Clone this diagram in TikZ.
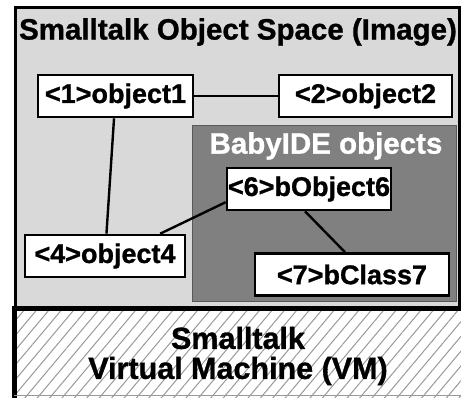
\documentclass[tikz,border=0pt]{standalone}
\usepackage{fontspec}
\setmainfont{Liberation Sans}[BoldFeatures={FakeBold=1}]
\usetikzlibrary{patterns.meta}
\definecolor{cspace}{HTML}{D9D9D9}
\definecolor{cbaby}{HTML}{808080}
\definecolor{cbabyline}{HTML}{595959}
\definecolor{chatch}{HTML}{999999}

\begin{document}
\begin{tikzpicture}[
  x=1pt, y=-1pt,
  font=\bfseries\fontsize{27}{31}\selectfont,
  objbox/.style={
    draw=black, fill=white, line width=2.6pt, inner sep=0pt,
    minimum width=#1, minimum height=42pt
  },
  link/.style={
    draw=black, line width=2.4pt
  },
  bigtext/.style={
    font=\bfseries\fontsize{29.5}{31}\selectfont
  }
]
\useasboundingbox (0, 0) rectangle (461, 398);

% ============================================================
% Object space (image)
% ============================================================
\draw[fill=cspace, line width=3pt] (15.5, 8) rectangle (459.5, 309);

\node[bigtext, anchor=center] (spacetitle) at (238, 32) {Smalltalk Object Space (Image)};

% BabyIDE area
\draw[fill=cbaby, draw=cbabyline, line width=1pt] (192, 126) rectangle (456, 302);
\node[bigtext, white, anchor=center] (babytitle) at (326, 146) {BabyIDE objects};

% Objects
\node[objbox=155pt] (object1) at (115.5, 96) {<1>object1};
\node[objbox=173pt] (object2) at (365.5, 96) {<2>object2};
\node[objbox=160pt] (object4) at (105, 256) {<4>object4};
\node[objbox=164pt] (bobject6) at (309, 189) {<6>bObject6};
\node[objbox=194pt] (bclass7) at (352, 274.5) {<7>bClass7};

% References between objects
\draw[link] (object1) -- (object2);
\draw[link] (object1) -- (object4);
\draw[link] (object4.22) -- (bobject6.189);
\draw[link] ([xshift=-4pt]bobject6.south) -- ([xshift=-7pt]bclass7.north);

% ============================================================
% Virtual machine
% ============================================================
\draw[fill=white] (14, 309) rectangle (461, 398);
\fill[pattern={Lines[angle=50, distance=9.5pt, line width=1pt]}, pattern color=chatch]
  (14, 309) rectangle (461, 398);
\draw[line width=5pt] (14.5, 398) -- (14.5, 308.5) -- (461, 308.5);
\draw[chatch, line width=1pt] (14, 395.5) -- (461, 395.5);

\node[anchor=center, align=center, font=\bfseries\fontsize{30.5}{30}\selectfont]
  (vm) at (238, 356) {Smalltalk\\Virtual Machine (VM)};

\end{tikzpicture}
\end{document}
